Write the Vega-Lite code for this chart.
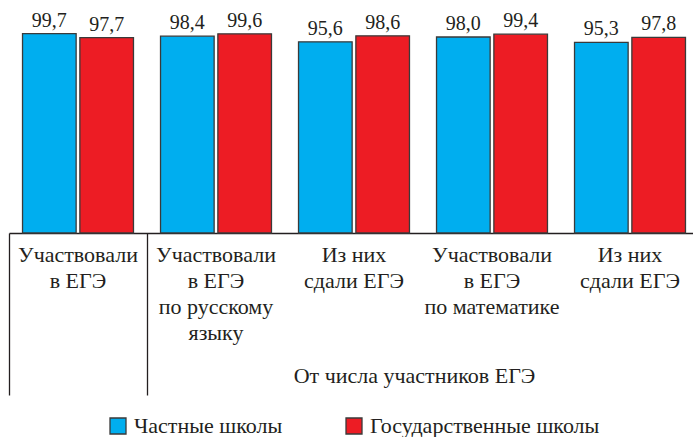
{
  "$schema": "https://vega.github.io/schema/vega-lite/v6.json",
  "width": 684,
  "height": 200,
  "autosize": {"type": "none"},
  "padding": {"top": 33, "left": 9, "right": 0, "bottom": 204},
  "config": {
    "view": {"stroke": null},
    "font": "'Liberation Serif', 'DejaVu Serif', serif",
    "locale": {"number": {"decimal": ",", "thousands": " ", "grouping": [3], "currency": ["", ""]}}
  },
  "data": {
    "values": [
      {"group": "Участвовали|в ЕГЭ", "school": "Частные школы", "value": 99.7},
      {"group": "Участвовали|в ЕГЭ", "school": "Государственные школы", "value": 97.7},
      {"group": "Участвовали|в ЕГЭ|по русскому|языку", "school": "Частные школы", "value": 98.4},
      {"group": "Участвовали|в ЕГЭ|по русскому|языку", "school": "Государственные школы", "value": 99.6},
      {"group": "Из них|сдали ЕГЭ", "school": "Частные школы", "value": 95.6},
      {"group": "Из них|сдали ЕГЭ", "school": "Государственные школы", "value": 98.6},
      {"group": "Участвовали|в ЕГЭ|по математике", "school": "Частные школы", "value": 98.0},
      {"group": "Участвовали|в ЕГЭ|по математике", "school": "Государственные школы", "value": 99.4},
      {"group": "Из них|сдали ЕГЭ|", "school": "Частные школы", "value": 95.3},
      {"group": "Из них|сдали ЕГЭ|", "school": "Государственные школы", "value": 97.8}
    ]
  },
  "encoding": {
    "x": {
      "field": "group",
      "type": "nominal",
      "sort": null,
      "scale": {"range": [0, 690], "paddingInner": 0.196, "paddingOuter": 0.098},
      "axis": {
        "title": "От числа участников ЕГЭ",
        "titleFont": "'Liberation Serif', 'DejaVu Serif', serif",
        "titleFontSize": 22,
        "titleFontWeight": "normal",
        "titleColor": "#231f20",
        "titleX": 405,
        "titleY": 149,
        "titleAlign": "center",
        "titleBaseline": "alphabetic",
        "labelExpr": "split(datum.value, '|')",
        "labelFont": "'Liberation Serif', 'DejaVu Serif', serif",
        "labelFontSize": 22,
        "labelColor": "#231f20",
        "labelAngle": 0,
        "labelBaseline": "alphabetic",
        "labelLineHeight": 26,
        "labelPadding": -134,
        "labelLimit": 0,
        "labelOverlap": false,
        "domainColor": "#231f20",
        "domainWidth": 1.3,
        "ticks": true,
        "tickSize": 162,
        "tickWidth": 1.3,
        "tickColor": "#231f20",
        "bandPosition": -0.1217,
        "tickOpacity": {"condition": {"test": "datum.index <= 0.3", "value": 1}, "value": 0}
      }
    },
    "xOffset": {
      "field": "school",
      "type": "nominal",
      "sort": ["Частные школы", "Государственные школы"],
      "scale": {"paddingInner": 0.065}
    },
    "y": {
      "field": "value",
      "type": "quantitative",
      "scale": {"domain": [0, 100]},
      "axis": null
    }
  },
  "layer": [
    {
      "mark": {"type": "bar", "stroke": "#3a3a3a", "strokeWidth": 1.3},
      "encoding": {
        "color": {
          "field": "school",
          "type": "nominal",
          "sort": ["Частные школы", "Государственные школы"],
          "scale": {"domain": ["Частные школы", "Государственные школы"], "range": ["#00aeef", "#ed1c24"]},
          "legend": {
            "title": null,
            "orient": "none",
            "legendX": 98,
            "legendY": 382,
            "direction": "horizontal",
            "symbolType": "square",
            "symbolSize": 256,
            "symbolStrokeColor": "#3a3a3a",
            "symbolStrokeWidth": 1.3,
            "symbolOpacity": 1,
            "labelFont": "'Liberation Serif', 'DejaVu Serif', serif",
            "labelFontSize": 22,
            "labelColor": "#231f20",
            "labelOffset": 5,
            "labelLimit": 0,
            "columnPadding": 60
          }
        }
      }
    },
    {
      "mark": {"type": "text", "dy": -7, "baseline": "alphabetic", "fontSize": 20, "font": "'Liberation Serif', 'DejaVu Serif', serif", "color": "#231f20"},
      "encoding": {
        "text": {"field": "value", "type": "quantitative", "format": ".1f"}
      }
    }
  ]
}
